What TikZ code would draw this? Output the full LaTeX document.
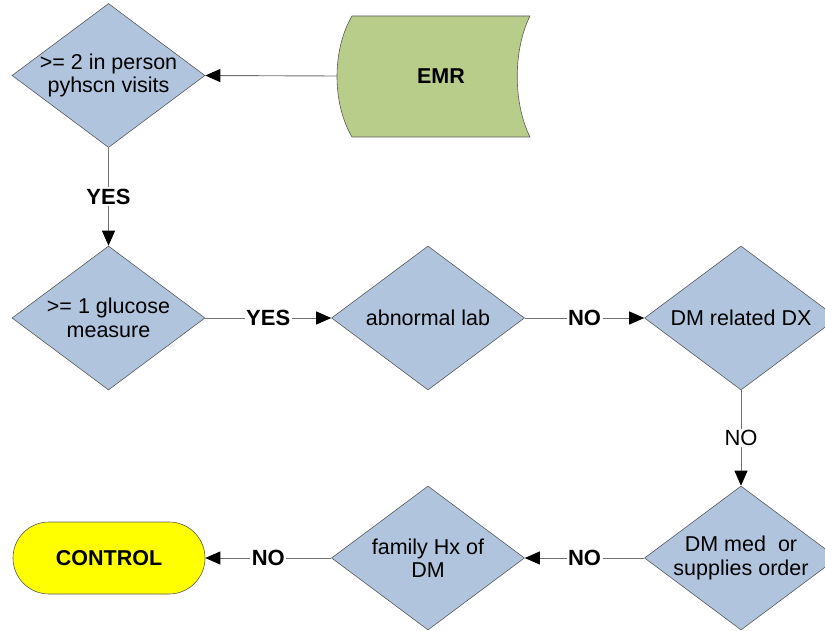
\documentclass[tikz,border=0pt]{standalone}
\usepackage{fontspec}
\setmainfont{Liberation Sans}
\usetikzlibrary{shapes.geometric,arrows.meta}
\definecolor{diafill}{HTML}{B0C4DE}
\definecolor{emrfill}{HTML}{B9CD8B}
\definecolor{edgegray}{HTML}{5A5A5A}
\definecolor{linegray}{HTML}{707070}
\definecolor{ctrlfill}{HTML}{FFFF00}
\begin{document}
\begin{tikzpicture}[x=1pt,y=-1pt,
  dia/.style={diamond, draw=edgegray, line width=0.6pt, fill=diafill,
    minimum width=193pt, minimum height=144pt, inner sep=0pt},
  txt/.style={align=center, font=\fontsize{21.5}{23.5}\selectfont, inner sep=0pt},
  btxt/.style={align=center, font=\fontsize{21.5}{23.5}\selectfont\bfseries, inner sep=0pt},
  lbl/.style={fill=white, inner sep=1.5pt, font=\fontsize{22}{24}\selectfont\bfseries},
  lblr/.style={fill=white, inner sep=1.5pt, font=\fontsize{22}{24}\selectfont},
  conn/.style={draw=linegray, line width=0.9pt,
    -{Triangle[length=15pt,width=13pt,color=black]}}]
\useasboundingbox (0,0) rectangle (825,631);

% EMR stored-data shape
\node[minimum width=178pt, minimum height=121pt, inner sep=0pt] (emr) at (441,76.5) {};
\path[draw=edgegray, line width=0.6pt, fill=emrfill]
  (352,16) -- (530,16) .. controls (513,50) and (513,103) .. (530,137)
  -- (352,137) .. controls (332,103) and (332,50) .. (352,16) -- cycle;
\node[btxt] (emrt) at (emr) {EMR};
\coordinate (emrw) at (337,76);

% diamonds
\node[dia] (d1) at (108.5,75.5) {};
\node[txt] (d1t) at (d1) {>= 2 in person\\pyhscn visits};
\node[dia] (d2) at (108.5,318) {};
\node[txt] (d2t) at (d2) {>= 1 glucose\\measure};
\node[dia] (d3) at (428,318) {};
\node[txt] (d3t) at (d3) {abnormal lab};
\node[dia] (d4) at (741,318) {};
\node[txt] (d4t) at (d4) {DM related DX};
\node[dia] (d5) at (741,558) {};
\node[txt] (d5t) at (d5) {DM med\ \ or\\supplies order};
\node[dia] (d6) at (428,558) {};
\node[txt] (d6t) at (d6) {family Hx of\\DM};

% terminator
\node[draw=edgegray, line width=0.6pt, fill=ctrlfill, rounded corners=36pt,
  minimum width=192pt, minimum height=72pt, inner sep=0pt,
  font=\fontsize{21.5}{23.5}\selectfont\bfseries] (ctrl) at (109,558) {CONTROL};

% connectors
\draw[conn] (emrw) -- (d1.east);
\draw[conn] (d1.south) -- node[lbl] (l1) {YES} (d2.north);
\draw[conn] (d2.east) -- node[lbl] (l2) {YES} (d3.west);
\draw[conn] (d3.east) -- node[lbl] (l3) {NO} (d4.west);
\draw[conn] (d4.south) -- node[lblr] (l4) {NO} (d5.north);
\draw[conn] (d5.west) -- node[lbl] (l5) {NO} (d6.east);
\draw[conn] (d6.west) -- node[lbl] (l6) {NO} (ctrl.east);
\end{tikzpicture}
\end{document}
